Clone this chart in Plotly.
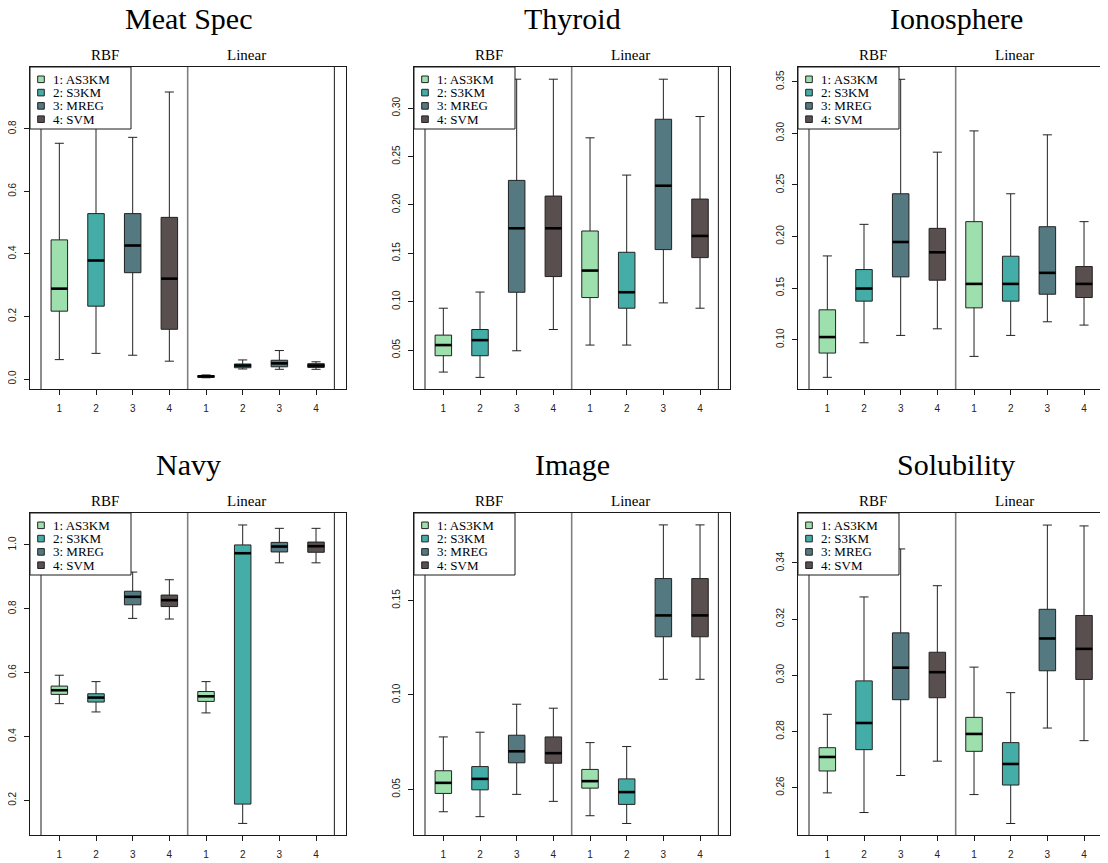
import plotly.graph_objects as go

VW, VH = 1108, 863   # browser viewport
OFF = 8              # default page body margin
W, H = VW - OFF, VH - OFF

methods = ["1: AS3KM", "2: S3KM", "3: MREG", "4: SVM"]
colors = ["#9DE0AD", "#45ADA8", "#547980", "#594F4F"]
kernels = ["RBF", "Linear"]
x_labels = ["1", "2", "3", "4", "1", "2", "3", "4"]
titles = ["Meat Spec", "Thyroid", "Ionosphere", "Navy", "Image", "Solubility"]

# per dataset: 8 boxes (RBF 1-4, Linear 1-4): lower, q1, median, q3, upper
meat_low = [0.062, 0.082, 0.076, 0.057, 0.004, 0.032, 0.031, 0.031]
meat_q1 = [0.217, 0.233, 0.340, 0.159, 0.005, 0.036, 0.039, 0.037]
meat_med = [0.289, 0.379, 0.427, 0.321, 0.0085, 0.043, 0.050, 0.043]
meat_q3 = [0.445, 0.529, 0.529, 0.517, 0.011, 0.048, 0.060, 0.049]
meat_up = [0.754, 0.860, 0.773, 0.918, 0.013, 0.061, 0.091, 0.055]

thy_low = [0.0273, 0.0218, 0.0493, 0.0713, 0.0552, 0.0552, 0.0988, 0.0933]
thy_q1 = [0.0442, 0.0442, 0.1098, 0.1260, 0.1043, 0.0933, 0.1539, 0.1456]
thy_med = [0.0552, 0.0603, 0.1759, 0.1759, 0.1322, 0.1098, 0.2199, 0.1680]
thy_q3 = [0.0655, 0.0713, 0.2254, 0.2092, 0.1731, 0.1511, 0.2886, 0.2061]
thy_up = [0.0933, 0.1100, 0.3300, 0.3300, 0.2694, 0.2309, 0.3300, 0.2914]

ion_low = [0.0636, 0.0971, 0.1042, 0.1106, 0.0839, 0.1042, 0.1174, 0.1142]
ion_q1 = [0.0871, 0.1374, 0.1609, 0.1577, 0.1309, 0.1374, 0.1441, 0.1409]
ion_med = [0.1026, 0.1496, 0.1947, 0.1847, 0.1541, 0.1541, 0.1648, 0.1541]
ion_q3 = [0.1290, 0.1680, 0.2414, 0.2079, 0.2144, 0.1809, 0.2095, 0.1709]
ion_up = [0.1812, 0.2118, 0.3523, 0.2817, 0.3023, 0.2414, 0.2985, 0.2144]

navy_low = [0.503, 0.477, 0.770, 0.768, 0.474, 0.128, 0.944, 0.944]
navy_q1 = [0.532, 0.508, 0.8125, 0.807, 0.510, 0.1885, 0.978, 0.977]
navy_med = [0.545, 0.522, 0.8375, 0.827, 0.526, 0.974, 0.995, 0.996]
navy_q3 = [0.558, 0.534, 0.855, 0.843, 0.541, 1.000, 1.008, 1.009]
navy_up = [0.592, 0.572, 0.915, 0.891, 0.572, 1.0625, 1.052, 1.052]

img_low = [0.0382, 0.0356, 0.0474, 0.0437, 0.0361, 0.0320, 0.1083, 0.1083]
img_q1 = [0.0479, 0.0498, 0.0641, 0.0639, 0.0507, 0.0421, 0.1308, 0.1308]
img_med = [0.0535, 0.0556, 0.0702, 0.0692, 0.0544, 0.0486, 0.1421, 0.1421]
img_q3 = [0.0599, 0.0621, 0.0787, 0.0778, 0.0606, 0.0556, 0.1616, 0.1616]
img_up = [0.0778, 0.0803, 0.0951, 0.0930, 0.0748, 0.0727, 0.1900, 0.1900]

sol_low = [0.2581, 0.2511, 0.2643, 0.2694, 0.2575, 0.2472, 0.2812, 0.2767]
sol_q1 = [0.2659, 0.2735, 0.2913, 0.2920, 0.2729, 0.2609, 0.3016, 0.2985]
sol_med = [0.2709, 0.2830, 0.3027, 0.3011, 0.2791, 0.2684, 0.3131, 0.3094]
sol_q3 = [0.2742, 0.2980, 0.3151, 0.3082, 0.2850, 0.2760, 0.3235, 0.3213]
sol_up = [0.2861, 0.3279, 0.3450, 0.3319, 0.3029, 0.2938, 0.3535, 0.3532]

meat_ticks = ["0.0", "0.2", "0.4", "0.6", "0.8"]
thy_ticks = ["0.05", "0.10", "0.15", "0.20", "0.25", "0.30"]
ion_ticks = ["0.10", "0.15", "0.20", "0.25", "0.30", "0.35"]
navy_ticks = ["0.2", "0.4", "0.6", "0.8", "1.0"]
img_ticks = ["0.05", "0.10", "0.15"]
sol_ticks = ["0.26", "0.28", "0.30", "0.32", "0.34"]

datasets = [
    (meat_low, meat_q1, meat_med, meat_q3, meat_up, meat_ticks, [-0.032, 0.998]),
    (thy_low, thy_q1, thy_med, thy_q3, thy_up, thy_ticks, [0.0098, 0.3426]),
    (ion_low, ion_q1, ion_med, ion_q3, ion_up, ion_ticks, [0.0523, 0.3642]),
    (navy_low, navy_q1, navy_med, navy_q3, navy_up, navy_ticks, [0.0917, 1.100]),
    (img_low, img_q1, img_med, img_q3, img_up, img_ticks, [0.0259, 0.1963]),
    (sol_low, sol_q1, sol_med, sol_q3, sol_up, sol_ticks, [0.2431, 0.3578]),
]

# layout geometry in viewport pixels
col_left = [30, 414, 798]
col_w = 316
row_top = [67, 513]
row_h = 322
unit = 36.67
x0 = 0.2

def px(x):
    return (x - OFF) / W

def py(y):
    return 1 - (y - OFF) / H

fig = go.Figure()
layout = dict(
    width=W, height=H, autosize=False,
    margin=dict(l=0, r=0, t=0, b=0),
    paper_bgcolor="white", plot_bgcolor="white",
    showlegend=False, boxmode="overlay",
)
shapes = []
annotations = []
box_w = 0.45
positions = list(range(1, 9))
frame_col = "#1a1a1a"

for k, (low, q1, med, q3, up, ticks, yr) in enumerate(datasets):
    r, c = divmod(k, 3)
    n = k + 1
    xa = "x" if n == 1 else f"x{n}"
    ya = "y" if n == 1 else f"y{n}"
    xkey = "xaxis" if n == 1 else f"xaxis{n}"
    ykey = "yaxis" if n == 1 else f"yaxis{n}"
    left = col_left[c]
    right = min(left + col_w, VW)
    top = row_top[r]
    bot = top + row_h
    xr = [x0, x0 + (right - left) / unit]

    for m in range(4):
        idx = [m, m + 4]
        fig.add_trace(go.Box(
            x=[positions[i] for i in idx],
            q1=[q1[i] for i in idx], median=[med[i] for i in idx],
            q3=[q3[i] for i in idx], lowerfence=[low[i] for i in idx],
            upperfence=[up[i] for i in idx],
            width=box_w, whiskerwidth=0.55,
            fillcolor=colors[m], line=dict(color="#222222", width=1),
            xaxis=xa, yaxis=ya, hoverinfo="skip",
        ))
    mx, my = [], []
    for i in range(8):
        mx += [positions[i] - box_w / 2, positions[i] + box_w / 2, None]
        my += [med[i], med[i], None]
    fig.add_trace(go.Scatter(x=mx, y=my, mode="lines",
                             line=dict(color="black", width=2.6),
                             xaxis=xa, yaxis=ya, hoverinfo="skip"))

    layout[xkey] = dict(
        domain=[px(left), min(px(right), 1.0)], range=xr, anchor=ya,
        tickmode="array", tickvals=positions, ticktext=x_labels,
        ticks="outside", ticklen=5, tickcolor=frame_col, tickwidth=1,
        showline=True, linecolor=frame_col, linewidth=1, mirror=True,
        showgrid=False, zeroline=False, ticklabelstandoff=5,
        tickfont=dict(family="Liberation Sans", size=10, color="#222222"),
    )
    layout[ykey] = dict(
        domain=[py(bot), py(top)], range=yr, anchor=xa,
        tickmode="array", tickvals=[float(t) for t in ticks], ticktext=ticks,
        ticks="outside", ticklen=5, tickcolor=frame_col, tickwidth=1,
        showline=True, linecolor=frame_col, linewidth=1, mirror=(c < 2),
        showgrid=False, zeroline=False, tickangle=-90, ticklabelstandoff=4,
        tickfont=dict(family="Liberation Sans", size=10, color="#222222"),
    )

    # inner vertical lines
    for xv, colr, lw in [(0.5, "#1a1a1a", 1), (4.5, "#808080", 1.6), (8.5, "#1a1a1a", 1)]:
        shapes.append(dict(type="line", xref=xa, yref=f"{ya} domain",
                           x0=xv, x1=xv, y0=0, y1=1,
                           line=dict(color=colr, width=lw), layer="above"))

    # title and strip labels
    annotations.append(dict(text=titles[k], xref="paper", yref="paper",
                            x=px(left + col_w / 2), y=py(top - 49),
                            showarrow=False, xanchor="center", yanchor="middle",
                            font=dict(family="Liberation Serif", size=30, color="black")))
    for kn, off in zip(kernels, [75, 216]):
        annotations.append(dict(text=kn, xref="paper", yref="paper",
                                x=px(left + off), y=py(top - 12),
                                showarrow=False, xanchor="center", yanchor="middle",
                                font=dict(family="Liberation Serif", size=15, color="black")))

    # legend box
    shapes.append(dict(type="rect", xref="paper", yref="paper",
                       x0=px(left), x1=px(left + 101), y0=py(top + 62), y1=py(top),
                       fillcolor="white", line=dict(color=frame_col, width=1),
                       layer="above"))
    for m in range(4):
        cy = top + 12.3 + m * 13.3
        shapes.append(dict(type="rect", xref="paper", yref="paper",
                           x0=px(left + 7.7), x1=px(left + 14.3),
                           y0=py(cy + 3.3), y1=py(cy - 3.3),
                           fillcolor=colors[m], line=dict(color="#222222", width=1),
                           layer="above"))
        annotations.append(dict(text=methods[m], xref="paper", yref="paper",
                                x=px(left + 21), y=py(cy),
                                showarrow=False, xanchor="left", yanchor="middle",
                                font=dict(family="Liberation Serif", size=13, color="black")))

layout["shapes"] = shapes
layout["annotations"] = annotations
fig.update_layout(**layout)
fig.write_html("out.html")
